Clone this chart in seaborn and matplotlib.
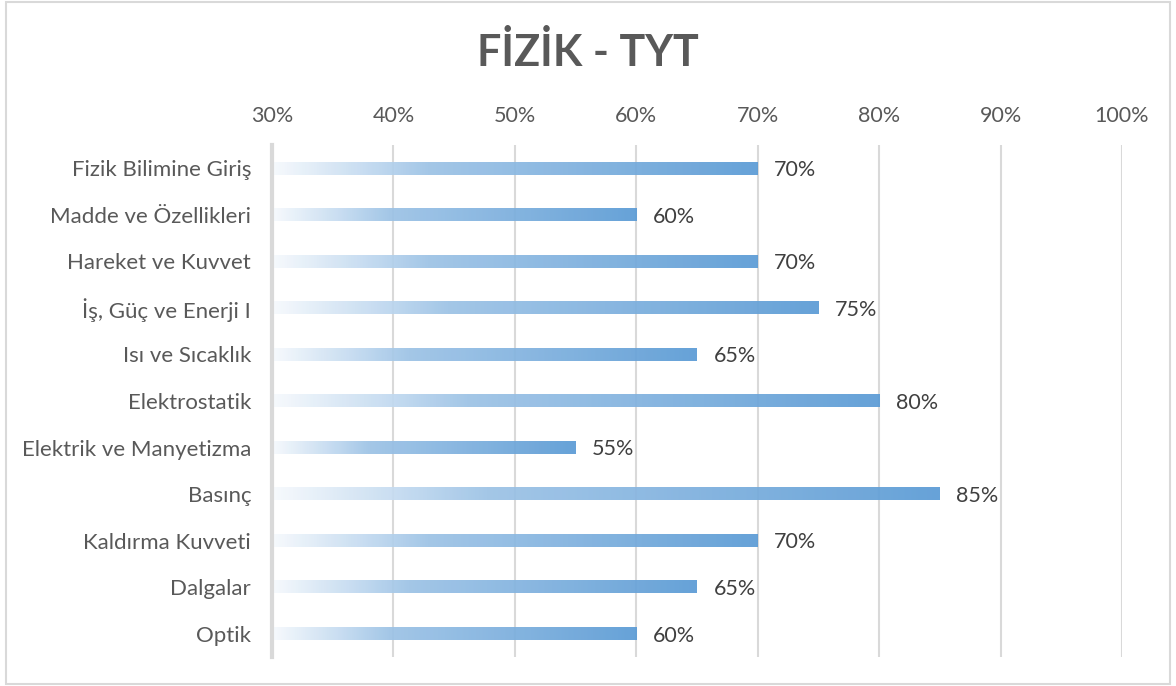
import matplotlib
matplotlib.use("Agg")
import matplotlib.pyplot as plt
import seaborn as sns
import numpy as np
import pandas as pd
from matplotlib.colors import LinearSegmentedColormap
from matplotlib.patches import Rectangle
from matplotlib.ticker import FixedLocator

categories = ["Fizik Bilimine Giriş", "Madde ve Özellikleri", "Hareket ve Kuvvet",
              "İş, Güç ve Enerji I", "Isı ve Sıcaklık", "Elektrostatik",
              "Elektrik ve Manyetizma", "Basınç", "Kaldırma Kuvveti", "Dalgalar", "Optik"]
values = [70, 60, 70, 75, 65, 80, 55, 85, 70, 65, 60]
tick_values = [30, 40, 50, 60, 70, 80, 90, 100]
title = "FİZİK - TYT"

sns.set_theme(style="white")
plt.rcParams['font.family'] = ['Lato', 'DejaVu Sans']

fig = plt.figure(figsize=(11.76, 6.86), dpi=100)
ax = fig.add_axes([272/1176, 29/686, 850/1176, 512/686])

df = pd.DataFrame({"cat": categories, "val": values})
sns.barplot(data=df, x="val", y="cat", orient="h", ax=ax, width=0.27,
            color="#5B9BD5", saturation=1)

ax.set_xlim(30, 100)
ax.set_ylim(10.5, -0.5)

cmap = LinearSegmentedColormap.from_list(
    "grad", [(0.0, "#F7FAFD"), (0.18, "#C6DCF1"), (0.32, "#9DC3E6"), (1.0, "#5B9BD5")])
grad = np.linspace(0, 1, 256).reshape(1, -1)
for p in ax.patches:
    x0 = 30
    x1 = p.get_x() + p.get_width()
    y0 = p.get_y()
    y1 = y0 + p.get_height()
    ax.imshow(grad, cmap=cmap, aspect="auto", extent=[x0, x1, y1, y0],
              zorder=2, alpha=0.93, interpolation="bilinear")
    p.set_visible(False)
    ax.text(x1 + 1.35, (y0 + y1) / 2 + 0.04, f"{int(round(x1))}%", va="center", ha="left",
            fontsize=15.5, color="#404040", zorder=3)

ax.set_xlim(30, 100)
ax.set_ylim(10.5, -0.5)
ax.set_aspect("auto")

ax.xaxis.set_major_locator(FixedLocator(tick_values))
ax.set_xticklabels([f"{t}%" for t in tick_values])
ax.xaxis.tick_top()
ax.tick_params(axis="x", length=0, pad=14, labelsize=15.5, labelcolor="#595959")
ax.tick_params(axis="y", length=0, pad=15, labelsize=16, labelcolor="#595959")
ax.set_xlabel("")
ax.set_ylabel("")
ax.grid(axis="x", color="#D9D9D9", linewidth=1.5, zorder=0)
ax.set_axisbelow(True)
for s in ["top", "right", "bottom"]:
    ax.spines[s].set_visible(False)
ax.spines["left"].set_color("#D9D9D9")
ax.spines["left"].set_linewidth(3)
ax.spines["left"].set_zorder(4)

fig.text(0.5, 1 - 52/686, title, ha="center", va="center", fontsize=31,
         fontweight="bold", color="#595959")

fig.patches.append(Rectangle((6/1176, 2/686), 1164/1176, 682/686, transform=fig.transFigure,
                             fill=False, edgecolor="#D9D9D9", linewidth=1.5))

fig.savefig("out.png", dpi=100)
